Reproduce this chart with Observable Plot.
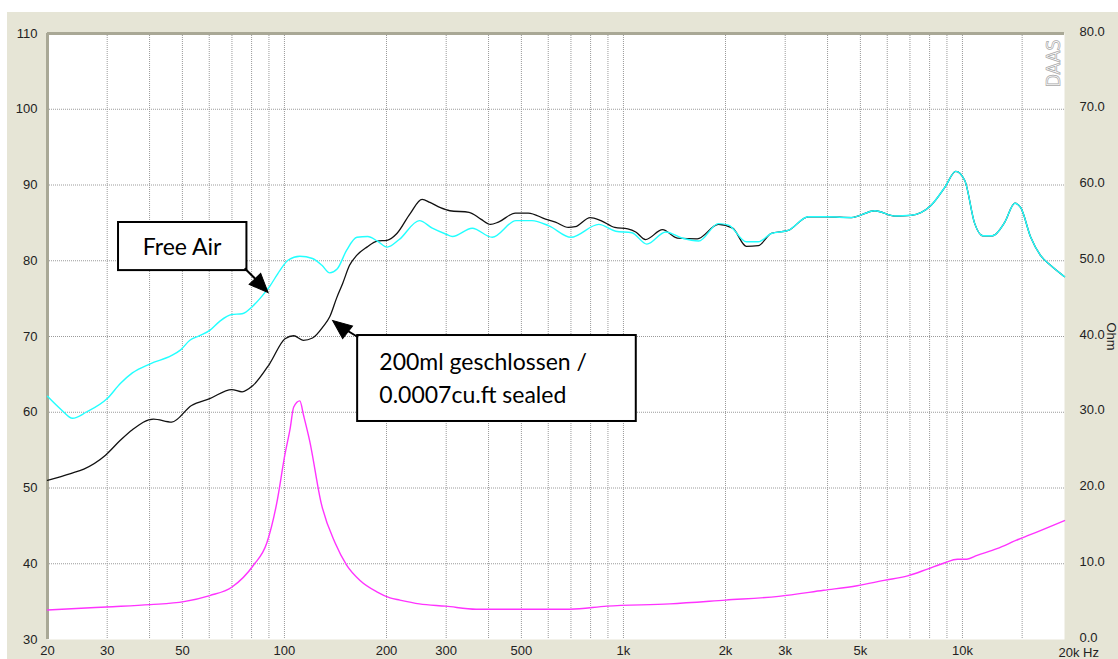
<!DOCTYPE html>
<html>
<head>
<meta charset="utf-8">
<script src="https://cdn.jsdelivr.net/npm/d3@7"></script>
<script src="https://cdn.jsdelivr.net/npm/@observablehq/plot@0.6"></script>
<style>
html, body { margin: 0; padding: 0; background: #ffffff; }
#chart { position: absolute; left: 7px; top: 12px; }
#chart svg { display: block; }
</style>
</head>
<body>
<div id="chart"></div>
<script>
// ---- Data ----
// Sealed 200 ml (black), SPL in dB
const sealedHz = [20, 23.4, 25.6, 29.6, 32.8, 35.6, 41.1, 46.5, 53.2, 60.2, 69.9, 75, 80.6, 90.4, 100.4, 106.5, 113.6, 121, 130, 136, 142.6, 148.5, 155.6, 163.3, 175.1, 187.8, 200.6, 214.6, 234.6, 254.7, 268.6, 288.5, 307.6, 350.5, 379.4, 405.4, 427.6, 480, 524, 589, 630, 688, 721, 798, 858, 943, 1030, 1087, 1162, 1304, 1441, 1651, 1906, 2100, 2305, 2500, 2730, 3063, 3508, 4016, 4697, 5521, 6324, 7047, 8070, 8873, 9556, 10159, 10870, 11470, 12271, 13333, 14270, 14860, 15900, 16990, 18190, 20000];
const sealedDb = [51.0, 51.9, 52.5, 54.3, 56.3, 57.7, 59.1, 58.7, 60.9, 61.8, 63.0, 62.7, 63.5, 66.4, 69.7, 70.1, 69.5, 69.8, 71.3, 72.6, 75.1, 77.0, 79.4, 80.7, 81.8, 82.6, 82.7, 83.6, 86.2, 88.1, 87.7, 87.0, 86.6, 86.4, 85.5, 84.8, 85.1, 86.3, 86.3, 85.5, 85.1, 84.4, 84.5, 85.7, 85.3, 84.4, 84.2, 83.8, 82.8, 84.1, 83.0, 82.9, 84.8, 84.3, 81.9, 82.0, 83.6, 84.0, 85.8, 85.8, 85.7, 86.6, 85.9, 86.0, 87.3, 89.7, 91.8, 90.6, 84.9, 83.3, 83.3, 85.1, 87.6, 87.0, 83.1, 80.7, 79.4, 77.9];

// Free air (cyan), SPL in dB
const freeAirHz = [20, 22, 23.7, 26, 30, 32.8, 35.6, 40.2, 46.5, 49.3, 52.6, 56.2, 60.2, 64.4, 69.9, 75, 80.6, 86.1, 90.4, 96.9, 102.6, 111, 121, 129, 136, 143, 152.6, 163.6, 176, 188, 201, 218, 250, 273, 300, 313, 358, 410, 482, 537, 603, 700, 846, 949, 1059, 1172, 1333, 1486, 1667, 1906, 2041, 2305, 2500, 2730, 3063, 3508, 4016, 4697, 5521, 6324, 7047, 8070, 8873, 9556, 10159, 10870, 11470, 12271, 13333, 14270, 14860, 15900, 16990, 18190, 20000];
const freeAirDb = [62.1, 60.3, 59.2, 60.0, 61.8, 63.8, 65.2, 66.4, 67.5, 68.2, 69.5, 70.1, 70.8, 72.0, 72.9, 73.0, 74.0, 75.4, 76.6, 78.7, 80.1, 80.6, 80.3, 79.4, 78.4, 78.9, 81.4, 83.1, 83.2, 82.6, 81.8, 82.8, 85.3, 84.3, 83.5, 83.2, 84.3, 83.1, 85.3, 85.3, 84.6, 83.1, 84.8, 83.9, 83.7, 82.2, 83.8, 83.0, 82.6, 84.9, 84.7, 82.5, 82.5, 83.6, 84.0, 85.8, 85.8, 85.7, 86.6, 85.9, 86.0, 87.3, 89.7, 91.8, 90.6, 84.9, 83.3, 83.3, 85.1, 87.6, 87.0, 83.1, 80.7, 79.4, 77.9];

// Impedance (magenta), Ohm on the right axis
const impHz = [20, 29.9, 40.2, 50.5, 60.2, 69.9, 81, 88.8, 94.8, 100.4, 103.9, 106.5, 111, 114, 118.6, 128.5, 140.9, 152.7, 167.1, 187.3, 204.8, 219, 250, 299.4, 367.5, 696, 893, 1370, 2000, 2870, 3896, 4890, 5870, 6890, 7885, 8830, 9660, 10300, 11050, 12640, 14600, 15780, 20000];
const impOhm = [3.9, 4.3, 4.6, 5.0, 5.8, 6.9, 9.8, 12.8, 17.9, 24.5, 27.8, 30.7, 31.5, 29.5, 26.3, 17.9, 12.8, 9.8, 7.8, 6.3, 5.5, 5.2, 4.7, 4.4, 4.0, 4.0, 4.4, 4.7, 5.2, 5.7, 6.5, 7.1, 7.8, 8.4, 9.3, 10.1, 10.6, 10.6, 11.1, 12.0, 13.2, 13.8, 15.7];

// Axis ticks
const xTickHz = [20, 30, 50, 100, 200, 300, 500, 1000, 2000, 3000, 5000, 10000];
const xTickLabels = ["20", "30", "50", "100", "200", "300", "500", "1k", "2k", "3k", "5k", "10k"];
const xGridHz = [30, 40, 50, 60, 70, 80, 90, 100, 200, 300, 400, 500, 600, 700, 800, 900, 1000, 2000, 3000, 4000, 5000, 6000, 7000, 8000, 9000, 10000, 15000];
const yTicksDb = [30, 40, 50, 60, 70, 80, 90, 100, 110];
const yGridDb = [40, 50, 60, 70, 80, 90, 100];
const ohmOffset = 30; // right axis 0.0 Ohm aligns with 30 dB

// Annotation texts
const freeAirLabel = ["Free Air"];
const sealedLabel = ["200ml geschlossen /", "0.0007cu.ft sealed"];

// ---- Build ----
const rows = (hz, v) => hz.map((f, i) => ({f, v: v[i]}));
const sealed = rows(sealedHz, sealedDb);
const freeAir = rows(freeAirHz, freeAirDb);
const imp = rows(impHz, impOhm);

const arrowHead = {
  draw(context) {
    context.moveTo(0, 0);
    context.lineTo(-8, 19);
    context.lineTo(8, 19);
    context.closePath();
  }
};

const frameColor = "#a9a896";
const gridStyle = {stroke: "#9a9a9a", strokeOpacity: 1, strokeWidth: 1, strokeDasharray: "1,1"};

const chart = Plot.plot({
  width: 1111,
  height: 647,
  marginLeft: 40,
  marginTop: 21,
  marginRight: 54,
  marginBottom: 20,
  style: {background: "#e6e5d6", fontFamily: "'Liberation Sans', Arial, sans-serif", fontSize: "13px", color: "#222"},
  x: {type: "log", domain: [20, 20000], axis: null},
  y: {domain: [30, 110]},
  marks: [
    Plot.frame({fill: "white", stroke: "none"}),
    Plot.gridX(xGridHz, gridStyle),
    Plot.gridY(yGridDb, gridStyle),
    Plot.ruleX([20], {stroke: frameColor, strokeWidth: 3}),
    Plot.ruleY([110], {stroke: frameColor, strokeWidth: 3}),
    // x tick labels
    Plot.text(xTickHz, {x: d => d, text: (d, i) => xTickLabels[i], frameAnchor: "bottom", lineAnchor: "top", dy: 6, fontSize: 13, fill: "#222"}),
    Plot.text(["20k Hz"], {x: () => 20000, frameAnchor: "bottom", lineAnchor: "top", dy: 8, dx: -6, textAnchor: "start", fontSize: 13, fill: "#222"}),
    Plot.axisY(yTicksDb, {anchor: "left", tickSize: 0, tickPadding: 10, label: null, fontSize: 13}),
    Plot.axisY(yTicksDb, {anchor: "right", tickSize: 0, tickPadding: 15, dy: -2, label: null, fontSize: 13, tickFormat: d => (d - ohmOffset).toFixed(1)}),
    Plot.text(["Ohm"], {frameAnchor: "right", dx: 47, rotate: 90, textAnchor: "middle", lineAnchor: "middle", fontSize: 13, fill: "#222"}),
    Plot.text(["DAAS"], {frameAnchor: "top-right", dx: -11, dy: 30, rotate: -90, textAnchor: "middle", lineAnchor: "middle", fontSize: 19, fill: "none", stroke: "#a8a8a8", strokeWidth: 0.7, fontFamily: "'Liberation Sans Narrow', 'DejaVu Sans Condensed', sans-serif"}),
    // curves
    Plot.line(imp, {x: "f", y: d => d.v + ohmOffset, stroke: "#ff33ff", strokeWidth: 1.4, curve: "monotone-x"}),
    Plot.line(sealed, {x: "f", y: "v", stroke: "#111", strokeWidth: 1.3, curve: "monotone-x"}),
    Plot.line(freeAir, {x: "f", y: "v", stroke: "#22ffff", strokeWidth: 1.4, curve: "monotone-x"}),
    // annotation: Free Air
    Plot.rect([0], {x1: () => 32.4, x2: () => 77.5, y1: () => 78.7, y2: () => 85.05, fill: "white", stroke: "black", strokeWidth: 2}),
    Plot.text(freeAirLabel, {x: () => 49.9, y: () => 81.75, fontSize: 23, fill: "black", fontFamily: "Lato, sans-serif"}),
    Plot.link([0], {x1: () => 76.3, y1: () => 79.0, x2: () => 86.5, y2: () => 76.6, stroke: "black", strokeWidth: 2}),
    Plot.dot([0], {x: () => 89.5, y: () => 75.8, symbol: arrowHead, rotate: 136, fill: "black", stroke: "black", strokeWidth: 1}),
    // annotation: sealed
    Plot.rect([0], {x1: () => 164.4, x2: () => 1091, y1: () => 58.78, y2: () => 70.13, fill: "white", stroke: "black", strokeWidth: 2}),
    Plot.text(sealedLabel, {x: () => 190.5, y: (d, i) => [66.57, 62.2][i], textAnchor: "start", fontSize: 23, fill: "black", fontFamily: "Lato, sans-serif"}),
    Plot.link([0], {x1: () => 165, y1: () => 69.9, x2: () => 143, y2: () => 71.6, stroke: "black", strokeWidth: 2}),
    Plot.dot([0], {x: () => 138.7, y: () => 72.1, symbol: arrowHead, rotate: -52, fill: "black", stroke: "black", strokeWidth: 1})
  ]
});

document.getElementById("chart").appendChild(chart);
</script>
</body>
</html>
